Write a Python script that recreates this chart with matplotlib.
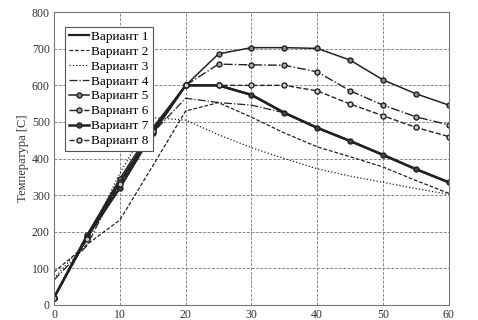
import matplotlib
matplotlib.use("Agg")
import matplotlib.pyplot as plt

plt.rcParams["font.family"] = ["Liberation Serif", "DejaVu Serif"]

# time points
t = [0, 5, 10, 15, 20, 25, 30, 35, 40, 45, 50, 55, 60]

v1 = [20, 190, 335, 475, 600, 600, 574, 525, 484, 448, 410, 371, 335]
v2 = [90, 165, 232, 380, 530, 553, 513, 470, 432, 405, 377, 340, 305]
v3 = [72, 175, 360, 512, 505, 465, 430, 400, 372, 352, 335, 318, 302]
v4 = [68, 162, 340, 470, 565, 553, 546, 525, 484, 448, 410, 371, 335]
v5 = [20, 190, 345, 484, 600, 686, 703, 703, 701, 669, 615, 577, 546]
v6 = [20, 185, 335, 478, 600, 658, 656, 655, 637, 585, 546, 514, 492]
v7 = [20, 185, 320, 470, 600, 600, 574, 525, 484, 448, 410, 371, 335]
v8 = [20, 180, 330, 475, 600, 600, 600, 600, 585, 549, 517, 485, 460]

labels = ["Вариант %d" % i for i in range(1, 9)]

fig = plt.figure(figsize=(4.78, 3.2), dpi=100)
ax = fig.add_axes([0.113, 0.047, 0.826, 0.915])

c = "#222222"
ax.plot(t, v1, "-", color=c, lw=1.6, label=labels[0])
ax.plot(t, v2, "--", color=c, lw=0.9, dashes=(3, 1.5), label=labels[1])
ax.plot(t, v3, ":", color=c, lw=0.9, label=labels[2])
ax.plot(t, v4, "-.", color=c, lw=0.9, label=labels[3])
ax.plot(t, v5, "-", color=c, lw=1.1, marker="o", ms=3.6, mfc="#888888", mew=1.0, label=labels[4])
ax.plot(t, v6, "-.", color=c, lw=1.0, marker="o", ms=3.6, mfc="#aaaaaa", mew=1.0, label=labels[5])
ax.plot(t, v7, "-", color=c, lw=1.8, marker="o", ms=3.6, mfc="#444444", mew=1.0, label=labels[6])
ax.plot(t, v8, "--", color=c, lw=1.0, marker="o", ms=3.6, mfc="#cccccc", mew=1.0, label=labels[7])

ax.set_xlim(0, 60)
ax.set_ylim(0, 800)
ax.set_xticks(range(0, 61, 10))
ax.set_yticks(range(0, 801, 100))
ax.grid(True, color="#888888", ls=(0, (3, 1.5)), lw=0.7)
for s in ax.spines.values():
    s.set_color("#777777")
ax.tick_params(labelsize=8.5, length=0, pad=3, colors="#333333")
ax.set_ylabel("Температура [C]", fontsize=9, color="#333333", labelpad=2)

leg = ax.legend(loc="upper left", bbox_to_anchor=(0.028, 0.95), fontsize=9.5,
                handlelength=1.5, handletextpad=0.2, labelspacing=0.2,
                borderpad=0.3, borderaxespad=0, fancybox=False, framealpha=1)
leg.get_frame().set_edgecolor("#555555")
leg.get_frame().set_linewidth(0.8)

fig.savefig("out.png", dpi=100)
